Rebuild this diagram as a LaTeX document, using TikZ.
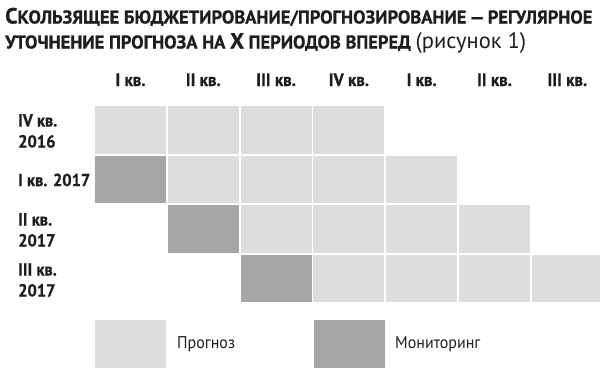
\documentclass[tikz,border=0pt]{standalone}
\usepackage{fontspec}
\setmainfont{PT Sans}
\newfontfamily\condfont[FakeStretch=0.94]{PT Sans}
\newfontfamily\heavycond[FakeStretch=0.94,FakeBold=0.6]{PT Sans}
\newfontfamily\heavytitle[FakeBold=0.8]{PT Sans}
\newfontfamily\lighttitle{PT Sans}
\definecolor{lightcell}{HTML}{DDDDDD}
\definecolor{darkcell}{HTML}{A6A6A6}
\definecolor{ink}{HTML}{1E1E1E}
\begin{document}
\begin{tikzpicture}[x=1pt,y=-1pt,
  cell/.style={fill=lightcell,draw=none,minimum width=71pt,minimum height=47.5pt,inner sep=0pt,outer sep=0pt,anchor=north west},
  mon/.style={cell,fill=darkcell},
  colhead/.style={font=\heavycond\bfseries\fontsize{18}{18}\selectfont,text=ink,inner sep=0pt,anchor=base},
  rowhead/.style={font=\heavycond\bfseries\fontsize{17.5}{21}\selectfont,text=ink,inner sep=0pt,anchor=west,align=left},
  legtext/.style={font=\condfont\fontsize{17}{17}\selectfont,text=ink,inner sep=0pt,anchor=west}]
\useasboundingbox (0,0) rectangle (600,383);
% title
\node[anchor=base west,inner sep=0pt,text=ink] (t1) at (5,23.5)
 {\heavytitle\bfseries\fontsize{22}{22}\selectfont С\fontsize{18.5}{18.5}\selectfont КОЛЬЗЯЩЕЕ БЮДЖЕТИРОВАНИЕ/ПРОГНОЗИРОВАНИЕ\,—\,РЕГУЛЯРНОЕ};
\node[anchor=base west,inner sep=0pt,text=ink] (t2) at (5,48.5)
 {\heavytitle\bfseries\fontsize{18.5}{18.5}\selectfont УТОЧНЕНИЕ ПРОГНОЗА НА \fontsize{22}{22}\selectfont X\fontsize{18.5}{18.5}\selectfont{} ПЕРИОДОВ ВПЕРЕД \lighttitle\mdseries\fontsize{22.5}{22.5}\selectfont(рисунок 1)};
% column headers
\foreach \i/\lab in {0/I кв.,1/II кв.,2/III кв.,3/IV кв.,4/I кв.,5/II кв.,6/III кв.}{
  \node[colhead] (h\i) at ({95+72.8*\i+35.5},86) {\lab};
}
% row headers
\node[rowhead] (r0) at (18,131) {IV кв.\\2016};
\node[rowhead] (r1) at (18,180) {I кв. 2017};
\node[rowhead] (r2) at (18,230) {II кв.\\2017};
\node[rowhead] (r3) at (18,280) {III кв.\\2017};
% cells
\foreach \c in {0,...,3}{ \node[cell] (c0\c) at ({95+72.8*\c},106) {}; }
\foreach \r in {1,2,3}{
  \pgfmathtruncatemacro{\m}{\r-1}
  \node[mon] (c\r\m) at ({95+72.8*\m},{106+49.5*\r}) {};
  \foreach \k in {0,...,3}{
    \pgfmathtruncatemacro{\c}{\r+\k}
    \node[cell] (c\r\c) at ({95+72.8*\c},{106+49.5*\r}) {};
  }
}
% legend
\node[cell] (lp) at (95,320) {};
\node[legtext] (lpt) at (177,344) {Прогноз};
\node[mon] (lm) at (314,320) {};
\node[legtext] (lmt) at (395,344) {Мониторинг};
\end{tikzpicture}
\end{document}
